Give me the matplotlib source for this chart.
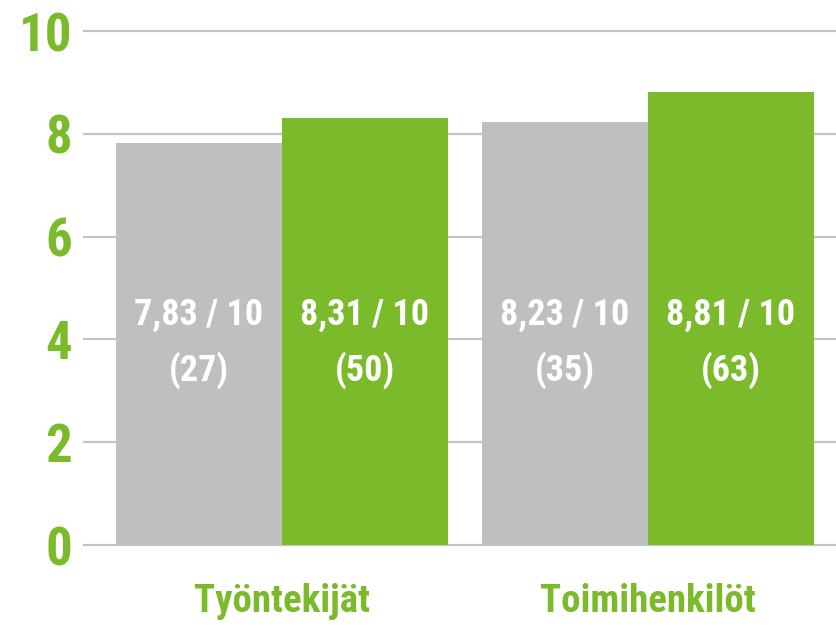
import numpy as np
import matplotlib
matplotlib.use('Agg')
import matplotlib.pyplot as plt

# ============ data ============
groups = ['Työntekijät', 'Toimihenkilöt']
grey_scores = [7.83, 8.23]
grey_counts = [27, 35]
green_scores = [8.31, 8.81]
green_counts = [50, 63]
y_ticks = [0, 2, 4, 6, 8, 10]

GREEN = '#7aba2b'
GREY = '#bebfbf'
GRID = '#c4c4c4'
FONT = ['Roboto Condensed', 'Liberation Sans Narrow', 'DejaVu Sans']

fig = plt.figure(figsize=(8.36, 6.28), dpi=100)
ax = fig.add_axes([83 / 836, 83 / 628, (836 - 83) / 836, (545 - 31) / 628])

x = np.arange(len(groups))
w = 166 / 366

ax.set_xlim(-0.5437, 1.5137)
ax.set_ylim(0, 10)

# gridlines behind the bars
ax.hlines(y_ticks, -0.5437, 1.5137, colors=GRID, linewidth=1.6, zorder=0, clip_on=False)

ax.bar(x - w / 2, grey_scores, w, color=GREY, zorder=2)
ax.bar(x + w / 2, green_scores, w, color=GREEN, zorder=2)

def fmt(v):
    return f"{v:.2f}".replace('.', ',') + ' / 10'

for xs, scores, counts in [(x - w / 2, grey_scores, grey_counts),
                           (x + w / 2, green_scores, green_counts)]:
    for xi, s, n in zip(xs, scores, counts):
        ax.text(xi, 4.47, fmt(s), ha='center', va='center', color='white',
                fontsize=26, fontweight='bold', family=FONT, fontstretch='condensed', zorder=3)
        ax.text(xi, 3.40, f'({n})', ha='center', va='center', color='white',
                fontsize=26, fontweight='bold', family=FONT, fontstretch='condensed', zorder=3)

ax.set_yticks(y_ticks)
ax.set_yticklabels([str(t) for t in y_ticks])
ax.set_xticks(x)
ax.set_xticklabels(groups)
for lab in ax.get_yticklabels():
    lab.set_family(FONT); lab.set_fontsize(38); lab.set_fontweight('bold')
    lab.set_color(GREEN); lab.set_fontstretch('condensed')
for lab in ax.get_xticklabels():
    lab.set_family(FONT); lab.set_fontsize(28); lab.set_fontweight('bold')
    lab.set_color(GREEN); lab.set_fontstretch('condensed')
ax.tick_params(axis='y', length=0, pad=8)
ax.tick_params(axis='x', length=0, pad=27)

for sp in ax.spines.values():
    sp.set_visible(False)

plt.savefig('out.png', dpi=100)
plt.close()
